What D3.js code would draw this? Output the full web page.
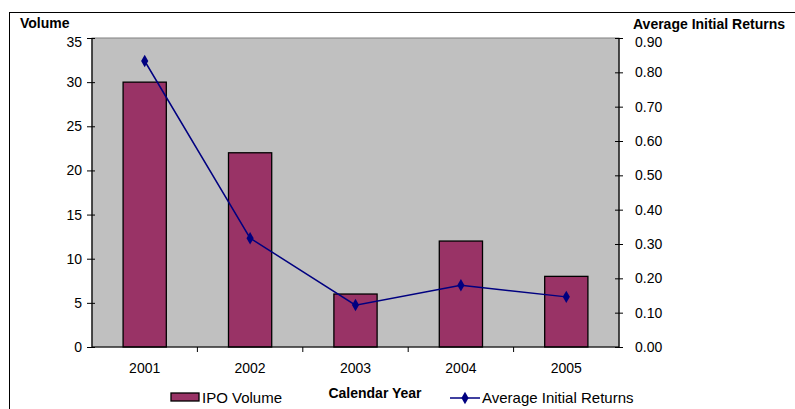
<!DOCTYPE html>
<html><head><meta charset="utf-8">
<script src="https://cdn.jsdelivr.net/npm/d3@7"></script>
<style>body{margin:0;background:#fff}svg{display:block;font-family:"Liberation Sans",Arial,sans-serif}</style>
</head><body>
<svg id="c" width="795" height="409"></svg>
<script>
const years = ["2001","2002","2003","2004","2005"];
const ipoVolume = [30, 22, 6, 12, 8];
const avgReturns = [0.833, 0.317, 0.122, 0.180, 0.146];
const leftTicks = [0,5,10,15,20,25,30,35];
const rightTicks = [0,0.1,0.2,0.3,0.4,0.5,0.6,0.7,0.8,0.9];

const svg = d3.select("#c");
const m = {l:92, r:619, t:38, b:347};
svg.append("rect").attr("x",9.5).attr("y",12.5).attr("width",800).attr("height",420)
  .attr("fill","#fff").attr("stroke","#000").attr("stroke-width",1);
svg.append("rect").attr("x",m.l).attr("y",m.t).attr("width",m.r-m.l).attr("height",m.b-m.t)
  .attr("fill","#C0C0C0").attr("stroke","#808080").attr("stroke-width",1);

const x = d3.scaleBand().domain(years).range([m.l,m.r]).paddingInner(0).paddingOuter(0);
const yL = d3.scaleLinear().domain([0,35]).range([m.b,m.t]);
const yR = d3.scaleLinear().domain([0,0.9]).range([m.b,m.t]);

const bw = x.bandwidth()*0.41;
svg.selectAll("rect.bar").data(years).enter().append("rect").attr("class","bar")
  .attr("x",d=>x(d)+x.bandwidth()/2-bw/2).attr("width",bw)
  .attr("y",(d,i)=>yL(ipoVolume[i])).attr("height",(d,i)=>m.b-yL(ipoVolume[i]))
  .attr("fill","#993366").attr("stroke","#000").attr("stroke-width",1.3);

const line = d3.line().x((d,i)=>x(years[i])+x.bandwidth()/2).y(d=>yR(d));
svg.append("path").attr("d",line(avgReturns)).attr("fill","none").attr("stroke","#000080").attr("stroke-width",1.5);
const diamond = d3.symbol().type(d3.symbolDiamond).size(45);
svg.selectAll("path.pt").data(avgReturns).enter().append("path").attr("class","pt")
  .attr("d",diamond).attr("fill","#000080")
  .attr("transform",(d,i)=>`translate(${x(years[i])+x.bandwidth()/2},${yR(d)})`);

const fs = "14px";
const gL = svg.append("g").attr("transform",`translate(${m.l},0)`)
  .call(d3.axisLeft(yL).tickValues(leftTicks).tickSize(5).tickPadding(5));
const gR = svg.append("g").attr("transform",`translate(${m.r},0)`)
  .call(d3.axisRight(yR).tickValues(rightTicks).tickSize(5).tickPadding(11).tickFormat(d3.format(".2f")));
[gL,gR].forEach(g=>{
  g.select(".domain").attr("stroke","#000").attr("stroke-width",1.2).attr("d",`M0,${m.t}V${m.b}`);
  g.selectAll(".tick text").attr("font-size",fs).attr("fill","#000").attr("font-family","Liberation Sans, Arial, sans-serif");
  g.selectAll(".tick line").attr("stroke","#000");
  // top label nudged down like the original
  g.selectAll(".tick").filter((d,i,n)=>i===n.length-1).select("text").attr("dy","0.62em");
});
gR.selectAll(".tick line").attr("x1",-4).attr("x2",4);
gL.selectAll(".tick line").attr("x1",-5).attr("x2",3);

const gB = svg.append("g").attr("transform",`translate(0,${m.b})`);
gB.append("line").attr("x1",m.l).attr("x2",m.r).attr("stroke","#000").attr("stroke-width",1.2);
const seps = years.slice(1).map(d=>x(d));
gB.selectAll("line.sep").data(seps).enter().append("line").attr("class","sep")
  .attr("x1",d=>d).attr("x2",d=>d).attr("y1",0).attr("y2",5).attr("stroke","#000");
gB.selectAll("text").data(years).enter().append("text")
  .attr("x",d=>x(d)+x.bandwidth()/2).attr("y",26).attr("text-anchor","middle")
  .attr("font-size",fs).text(d=>d);

svg.append("text").attr("x",20).attr("y",28).attr("font-size","14px").attr("font-weight","bold").text("Volume");
svg.append("text").attr("x",633).attr("y",29).attr("font-size","14px").attr("font-weight","bold").text("Average Initial Returns");
svg.append("text").attr("x",375).attr("y",398).attr("text-anchor","middle").attr("font-size","14px").attr("font-weight","bold").text("Calendar Year");

svg.append("rect").attr("x",171).attr("y",393).attr("width",28).attr("height",8).attr("fill","#993366").attr("stroke","#000").attr("stroke-width",1.3);
svg.append("text").attr("x",202).attr("y",403).attr("font-size","15px").text("IPO Volume");
svg.append("line").attr("x1",450).attr("x2",480).attr("y1",398).attr("y2",398).attr("stroke","#000080").attr("stroke-width",1.5);
svg.append("path").attr("d",diamond).attr("fill","#000080").attr("transform","translate(465,398)");
svg.append("text").attr("x",482).attr("y",403).attr("font-size","15px").text("Average Initial Returns");
</script>
</body></html>
